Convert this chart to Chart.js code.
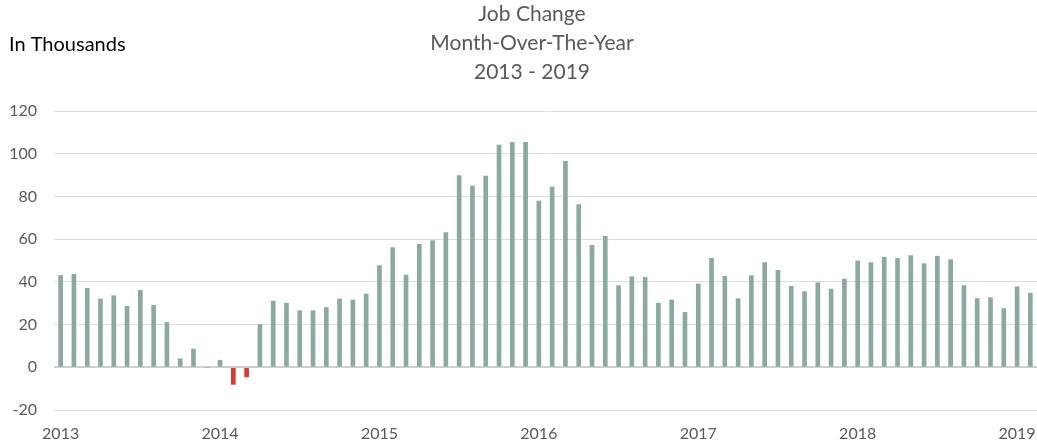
<!DOCTYPE html>
<html>
<head>
<meta charset="utf-8">
<script src="https://cdn.jsdelivr.net/npm/chart.js@4.4.1/dist/chart.umd.min.js"></script>
<style>
  html, body { margin: 0; padding: 0; background: #fff; }
  #wrap { width: 1037px; height: 447px; }
</style>
</head>
<body>
<div id="wrap"><canvas id="jobs"></canvas></div>
<script>
// monthly job change, in thousands, Jan 2013 .. Feb 2019
const years = ['2013', '2014', '2015', '2016', '2017', '2018', '2019'];
const change2013 = [43, 43.5, 37, 32, 33.5, 28.5, 36, 29, 21, 4, 8.5, 0];
const change2014 = [3.3, -8, -4.5, 20, 31, 30, 26.5, 26.5, 28, 32, 31.5, 34.3];
const change2015 = [47.6, 56, 43.2, 57.6, 59.3, 63.1, 89.8, 84.8, 89.5, 104, 105.3, 105.3];
const change2016 = [77.8, 84.4, 96.4, 76.2, 57.1, 61.3, 38.2, 42.4, 42.1, 30, 31.5, 25.7];
const change2017 = [39, 51, 42.6, 32.1, 42.9, 49, 45.4, 37.9, 35.4, 39.6, 36.6, 41.3];
const change2018 = [49.8, 49, 51.5, 51, 52.3, 48.5, 52, 50.4, 38.3, 32.2, 32.6, 27.5];
const change2019 = [37.7, 34.7];
const yTicks = [-20, 0, 20, 40, 60, 80, 100, 120];
const titleLines = ['Job Change', 'Month-Over-The-Year', '2013 - 2019'];

const values = [].concat(change2013, change2014, change2015, change2016, change2017, change2018, change2019);
var labels = [];
values.forEach(function (v, i) {
    labels.push(years[Math.floor(i / 12)] + '-' + String(i % 12 + 1).padStart(2, '0'));
});

// title block + "In Thousands" note, drawn straight on the canvas
const headerText = {
    id: 'headerText',
    afterDraw(chart) {
        const ctx = chart.ctx;
        ctx.save();
        ctx.textBaseline = 'middle';
        ctx.textAlign = 'left';
        ctx.font = "20px Lato";
        ctx.fillStyle = '#000';
        ctx.fillText('In Thousands', 9, 45);
        ctx.textAlign = 'center';
        ctx.font = "21px Lato";
        ctx.fillStyle = '#595959';
        titleLines.forEach(function (t, i) {
            ctx.fillText(t, 532, 14 + i * 29);
        });
        ctx.restore();
    }
};

var ctx = document.getElementById('jobs').getContext('2d');
var chart = new Chart(ctx, {
    type: 'bar',
    data: {
        labels: labels,
        datasets: [
            {
                data: values,
                barThickness: 4,
                backgroundColor: function (c) {
                    return c.raw < 0 ? '#d93a2b' : '#8aab9b';
                },
            },
        ]
    },
    plugins: [headerText],
    options: {
        responsive: true,
        maintainAspectRatio: false,
        animation: false,
        layout: { padding: { left: 0, right: 0, top: 111, bottom: 0 } },
        scales: {
            x: {
                offset: true,
                afterFit: function (scale) {
                    scale.height = 37;
                    scale.paddingLeft = 0;
                    scale.paddingRight = 0;
                },
                border: { display: false },
                grid: { display: false, drawTicks: false },
                ticks: {
                    autoSkip: false,
                    maxRotation: 0,
                    padding: 14,
                    color: '#595959',
                    font: { family: 'Lato', size: 16 },
                    callback: function (val, i) {
                        return i % 12 === 0 ? years[i / 12] : '';
                    }
                }
            },
            y: {
                min: -20,
                max: 120,
                afterFit: function (scale) { scale.width = 54; },
                afterBuildTicks: function (scale) {
                    scale.ticks = yTicks.map(function (v) { return { value: v }; });
                },
                border: { display: false },
                grid: {
                    drawTicks: false,
                    color: function (c) { return c.tick && c.tick.value === 0 ? '#cfcfcf' : '#dedede'; },
                    lineWidth: function (c) { return c.tick && c.tick.value === 0 ? 2 : 1; },
                },
                ticks: {
                    padding: 17,
                    color: '#595959',
                    font: { family: 'Lato', size: 16 },
                }
            },
        },
        plugins: {
            legend: { display: false },
            tooltip: { enabled: false },
            title: { display: false }
        }
    },
});
</script>
</body>
</html>
